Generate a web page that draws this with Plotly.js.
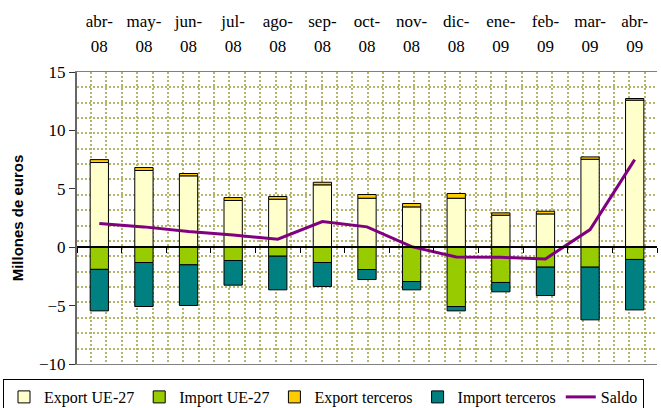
<!DOCTYPE html>
<html>
<head>
<meta charset="utf-8">
<script src="https://cdn.plot.ly/plotly-3.0.1.min.js"></script>
<style>html,body{margin:0;padding:0;background:#fff;}#chart{width:661px;height:408px;}</style>
</head>
<body>
<div id="chart"></div>
<script>
// ---- data ----
var months = ['abr-','may-','jun-','jul-','ago-','sep-','oct-','nov-','dic-','ene-','feb-','mar-','abr-'];
var years  = ['08','08','08','08','08','08','08','08','08','09','09','09','09'];
var categories = ['abr-08','may-08','jun-08','jul-08','ago-08','sep-08','oct-08','nov-08','dic-08','ene-09','feb-09','mar-09','abr-09'];
var exportUE   = [7.25, 6.57, 6.11, 4.00, 4.11, 5.34, 4.19, 3.45, 4.19, 2.74, 2.85, 7.53, 12.59];
var importUE   = [-1.90, -1.31, -1.51, -1.14, -0.77, -1.31, -1.91, -2.94, -5.08, -3.02, -1.71, -1.71, -1.05];
var exportTer  = [0.25, 0.25, 0.20, 0.25, 0.23, 0.22, 0.32, 0.29, 0.41, 0.20, 0.23, 0.20, 0.14];
var importTer  = [-3.55, -3.77, -3.48, -2.11, -2.88, -2.06, -0.86, -0.71, -0.37, -0.80, -2.43, -4.51, -4.32];
var saldo      = [2.03, 1.74, 1.35, 1.05, 0.68, 2.20, 1.74, 0.05, -0.84, -0.87, -1.00, 1.51, 7.50];
var yTicks = [-10, -5, 0, 5, 10, 15];

var yRange = [-10, 15];
var serif = 'Liberation Serif';
var outline = {color: '#000000', width: 1};

function barTrace(name, vals, color) {
  return {type: 'bar', name: name, x: categories, y: vals, xaxis: 'x', yaxis: 'y',
          marker: {color: color, line: outline}, hoverinfo: 'name+y'};
}

var traces = [
  barTrace('Export UE-27', exportUE, '#FFFFCC'),
  barTrace('Import UE-27', importUE, '#99CC00'),
  barTrace('Export terceros', exportTer, '#FFCC00'),
  barTrace('Import terceros', importTer, '#008080'),
  {type: 'scatter', mode: 'lines', name: 'Saldo', x: categories, y: saldo, xaxis: 'x', yaxis: 'y',
   line: {color: '#800080', width: 3}}
];

var gridStep = 15.38, plotW = 580, plotH = 292;
var dotted = '2px,2px';
var gridColor = '#b6b66a';

var layout = {
  width: 661, height: 408,
  margin: {l: 77, r: 4, t: 72, b: 44, autoexpand: false},
  paper_bgcolor: '#ffffff', plot_bgcolor: '#ffffff',
  font: {family: serif},
  barmode: 'relative', bargap: 0.59,
  showlegend: true,
  legend: {orientation: 'h', x: -74/plotW, xanchor: 'left', y: -15/plotH, yanchor: 'top',
           font: {family: serif, size: 16, color: '#000'}, bordercolor: '#000000', borderwidth: 1,
           bgcolor: '#ffffff', itemwidth: 30, traceorder: 'normal'},
  xaxis: {type: 'category', range: [-0.5, 12.5], anchor: 'free',
          position: (0 - yRange[0]) / (yRange[1] - yRange[0]), side: 'bottom',
          showline: true, linecolor: '#000000', linewidth: 2, ticks: 'outside', tickson: 'boundaries',
          ticklen: 5, tickcolor: '#000000', tickwidth: 1, showticklabels: false, showgrid: false,
          zeroline: false, fixedrange: true},
  yaxis: {range: yRange, tickmode: 'array', tickvals: yTicks, showgrid: false, zeroline: false,
          showline: true, linecolor: '#666666', linewidth: 2, ticks: 'outside', ticklen: 6,
          tickcolor: '#333333', tickfont: {family: serif, size: 17, color: '#000'},
          title: {text: 'Millones de euros', font: {family: 'Liberation Sans', size: 15, color: '#000', weight: 'bold'}, standoff: 12},
          automargin: false, fixedrange: true},
  // dotted pattern grid (overlay axes)
  xaxis2: {overlaying: 'x', anchor: 'y2', range: [0, plotW / gridStep], tick0: 14 / gridStep, dtick: 1,
           showgrid: true, gridcolor: gridColor, gridwidth: 2, griddash: dotted,
           showticklabels: false, ticks: '', zeroline: false,
           showline: true, mirror: true, linecolor: '#808080', linewidth: 1, fixedrange: true},
  yaxis2: {overlaying: 'y', anchor: 'x2', range: [0, plotH / gridStep], tick0: 0, dtick: 1,
           showgrid: true, gridcolor: gridColor, gridwidth: 2, griddash: dotted,
           showticklabels: false, ticks: '', zeroline: false, showline: false, fixedrange: true},
  // top labels: month
  xaxis3: {overlaying: 'x', anchor: 'y', side: 'top', range: [-0.5, 12.5], tickmode: 'array',
           tickvals: months.map(function(_, i){return i;}), ticktext: months,
           tickfont: {family: serif, size: 17, color: '#000'}, ticks: '', showgrid: false,
           zeroline: false, showline: false, ticklabelstandoff: 41, fixedrange: true},
  // top labels: year
  xaxis4: {overlaying: 'x', anchor: 'y', side: 'top', range: [-0.5, 12.5], tickmode: 'array',
           tickvals: years.map(function(_, i){return i;}), ticktext: years,
           tickfont: {family: serif, size: 17, color: '#000'}, ticks: '', showgrid: false,
           zeroline: false, showline: false, ticklabelstandoff: 16, fixedrange: true}
};

// hidden helper traces so the overlay axes exist
traces.push({type: 'scatter', x: [], y: [], xaxis: 'x2', yaxis: 'y2', showlegend: false, hoverinfo: 'skip'});
traces.push({type: 'scatter', x: [], y: [], xaxis: 'x3', yaxis: 'y', showlegend: false, hoverinfo: 'skip'});
traces.push({type: 'scatter', x: [], y: [], xaxis: 'x4', yaxis: 'y', showlegend: false, hoverinfo: 'skip'});

Plotly.newPlot('chart', traces, layout, {displayModeBar: false, staticPlot: true});
</script>
</body>
</html>
